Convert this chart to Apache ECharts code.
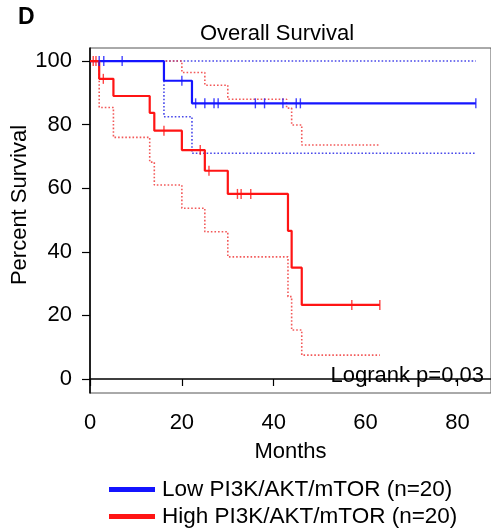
<!DOCTYPE html>
<html>
<head>
<meta charset="utf-8">
<script src="https://cdn.jsdelivr.net/npm/echarts@6/dist/echarts.min.js"></script>
<style>
  html, body { margin: 0; padding: 0; background: #fff; }
  #survivalChart { width: 491px; height: 529px; }
</style>
</head>
<body>
<div id="survivalChart"></div>
<script>
// tick labels
const xTicks = [0, 20, 40, 60, 80]
const yTicks = [0, 20, 40, 60, 80, 100]

// Low PI3K/AKT/mTOR (months, percent survival)
const lowCurve = [[0, 100], [16.1, 93.8], [22.2, 86.7], [84.0, 86.7]]
const lowCensored = [[2.0, 100], [3.0, 100], [7.0, 100], [20.0, 93.8], [23.0, 86.7], [25.0, 86.7], [27.0, 86.7],
  [27.9, 86.7], [36.0, 86.7], [38.0, 86.7], [42.0, 86.7], [44.9, 86.7], [45.8, 86.7], [84.0, 86.7]]
const lowUpper = [[0, 100], [84.0, 100]]
const lowLower = [[0, 100], [16.1, 82.5], [22.2, 71.0], [84.0, 71.0]]

// High PI3K/AKT/mTOR
const highCurve = [[0, 100], [2.0, 94.4], [5.1, 89.0], [13.0, 83.7], [14.0, 78.1], [20.0, 72.0], [25.0, 65.5],
  [30.0, 58.2], [43.1, 46.6], [43.9, 35.0], [46.1, 23.3], [63.1, 23.3]]
const highCensored = [[0.7, 100], [1.3, 100], [2.9, 94.4], [16.1, 78.1], [24.0, 72.0], [25.9, 65.5], [32.1, 58.2],
  [32.9, 58.2], [35.0, 58.2], [57.0, 23.3], [63.1, 23.3]]
const highUpper = [[0, 100], [20.0, 96.4], [25.0, 92.4], [30.0, 88.0], [42.8, 85.2], [43.9, 79.9], [46.1, 73.6], [63.1, 73.6]]
const highLower = [[0, 100], [2.0, 85.4], [5.1, 76.0], [13.0, 68.2], [14.0, 61.0], [20.0, 53.7], [25.0, 46.3],
  [30.0, 38.4], [43.1, 25.9], [43.9, 15.4], [46.1, 7.5], [63.1, 7.5]]

const lowName = 'Low PI3K/AKT/mTOR (n=20)'
const highName = 'High PI3K/AKT/mTOR (n=20)'
const fontFamily = 'Liberation Sans, Arial, sans-serif'

const chart = echarts.init(document.getElementById('survivalChart'))

function ciLine(name, data, color) {
  return {
    name: name,
    type: 'line',
    step: 'end',
    data: data,
    symbol: 'none',
    silent: true,
    z: 1,
    lineStyle: { color: color, width: 1.6, type: [1.6, 2] }
  }
}

function censorMarks(name, data, color) {
  return {
    name: name,
    type: 'scatter',
    data: data,
    symbol: 'rect',
    symbolSize: [1.4, 10],
    itemStyle: { color: color },
    z: 4
  }
}

function legendRow(name, top) {
  return {
    left: 104,
    top: top,
    itemWidth: 46,
    itemHeight: 5,
    itemGap: 0,
    icon: 'rect',
    selectedMode: false,
    textStyle: { fontSize: 22.5, fontFamily: fontFamily, color: '#000', padding: [0, 0, 0, 2] },
    data: [name]
  }
}

const option = {
  animation: false,
  graphic: [
    {
      type: 'text', left: 18, top: 6,
      style: { text: 'D', font: 'bold 23px ' + fontFamily, fill: '#000' }
    },
    {
      type: 'text', x: 277, y: 34,
      style: { text: 'Overall Survival', font: '22px ' + fontFamily, fill: '#000', align: 'center', verticalAlign: 'middle' }
    },
    {
      type: 'text', x: 20, y: 205, rotation: Math.PI / 2,
      style: { text: 'Percent Survival', font: '22px ' + fontFamily, fill: '#000', align: 'center', verticalAlign: 'middle' }
    },
    {
      type: 'text', x: 484, y: 376,
      style: { text: 'Logrank p=0.03', font: '22px ' + fontFamily, fill: '#000', align: 'right', verticalAlign: 'middle' }
    }
  ],
  legend: [legendRow(lowName, 473), legendRow(highName, 500)],
  grid: {
    left: 90,
    right: -2,
    top: 48,
    bottom: 136,
    show: true,
    borderColor: '#555',
    borderWidth: 1
  },
  xAxis: {
    type: 'value',
    min: 0,
    max: 87.3,
    name: 'Months',
    nameLocation: 'middle',
    nameGap: 48,
    nameTextStyle: { fontSize: 22, fontFamily: fontFamily, color: '#000' },
    splitLine: { show: false },
    axisLine: { lineStyle: { color: '#000', width: 1.6 } },
    axisTick: { length: 7, customValues: xTicks, lineStyle: { color: '#000', width: 1.2 } },
    axisLabel: { customValues: xTicks, margin: 19, fontSize: 22, fontFamily: fontFamily, color: '#000' }
  },
  yAxis: {
    type: 'value',
    min: -4.4,
    max: 104.1,
    splitLine: { show: false },
    axisLine: { show: true, lineStyle: { color: '#000', width: 1.6 } },
    axisTick: { show: true, length: 8, customValues: yTicks, lineStyle: { color: '#000', width: 1.2 } },
    axisLabel: { customValues: yTicks, margin: 18, fontSize: 22, fontFamily: fontFamily, color: '#000' }
  },
  series: [
    ciLine('lowUpper', lowUpper, 'rgba(40,40,230,0.85)'),
    ciLine('lowLower', lowLower, 'rgba(40,40,230,0.85)'),
    ciLine('highUpper', highUpper, 'rgba(240,60,60,0.85)'),
    ciLine('highLower', highLower, 'rgba(240,60,60,0.85)'),
    {
      name: lowName,
      type: 'line',
      step: 'end',
      data: lowCurve,
      symbol: 'none',
      z: 3,
      itemStyle: { color: '#1414ff' },
      lineStyle: { color: '#1414ff', width: 2.2 }
    },
    {
      name: highName,
      type: 'line',
      step: 'end',
      data: highCurve,
      symbol: 'none',
      z: 3,
      itemStyle: { color: '#ff1414' },
      lineStyle: { color: '#ff1414', width: 2.2 }
    },
    censorMarks('lowCensored', lowCensored, '#1414ff'),
    censorMarks('highCensored', highCensored, '#ff1414')
  ]
}

option && chart.setOption(option)
</script>
</body>
</html>
